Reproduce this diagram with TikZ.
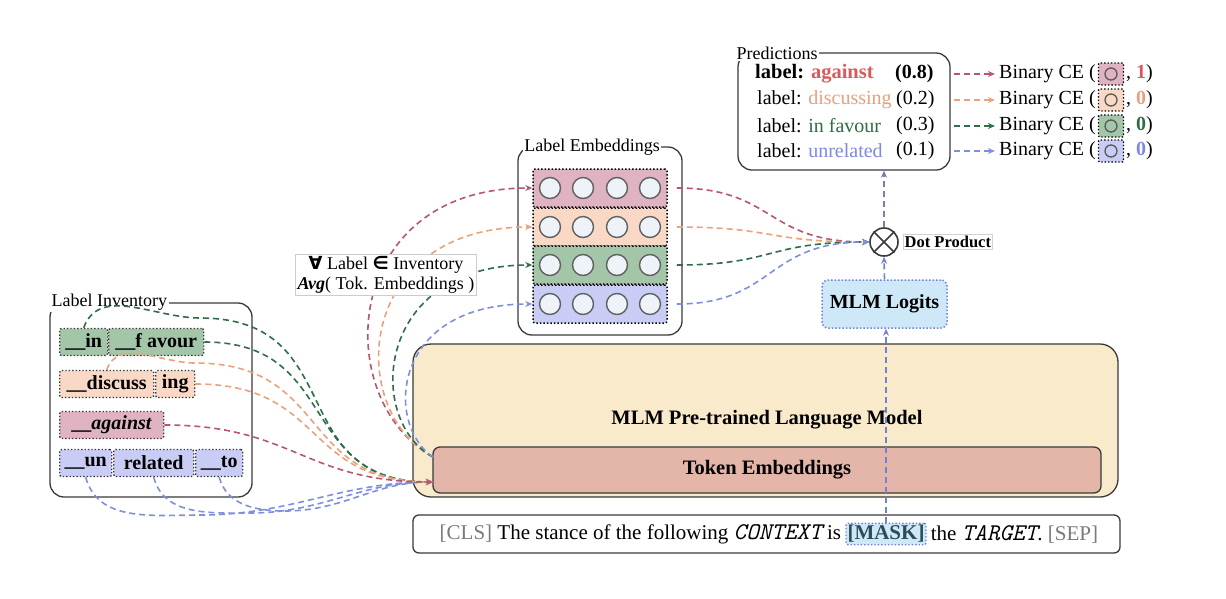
\documentclass[tikz,border=0pt]{standalone}
\usepackage{fontspec}
\setmainfont{Liberation Serif}
\newfontfamily\symfont{DejaVu Sans}
\usetikzlibrary{arrows.meta}
\definecolor{cred}{HTML}{B8566F}
\definecolor{corange}{HTML}{E9A27C}
\definecolor{cgreen}{HTML}{2F6E48}
\definecolor{cblue}{HTML}{7F8FE0}
\definecolor{cpurple}{HTML}{8A76A8}
\definecolor{fred}{HTML}{DFB3C2}
\definecolor{forange}{HTML}{F9D9C6}
\definecolor{fgreen}{HTML}{A3C6A9}
\definecolor{fblue}{HTML}{C9CDF5}
\definecolor{tred}{HTML}{D95A5E}
\definecolor{torange}{HTML}{E8A07C}
\definecolor{tgreen}{HTML}{2E6E45}
\definecolor{tblue}{HTML}{7F88E0}
\definecolor{beige}{HTML}{F9EACB}
\definecolor{rose}{HTML}{E4B6AA}
\definecolor{lblue}{HTML}{CFE8F8}
\definecolor{mblue}{HTML}{6F82D8}
\definecolor{cellfill}{HTML}{EEF3FA}
\definecolor{darkline}{HTML}{3A3A3A}
\definecolor{graytext}{HTML}{7A7A7A}
\definecolor{masktext}{HTML}{2B4C5C}
\newcommand\myfs[1]{\fontsize{#1}{#1}\selectfont}
\begin{document}
\begin{tikzpicture}[x=1pt,y=-1pt,
  frame/.style={draw=darkline, line width=1.3pt, rounded corners=14pt},
  titletext/.style={fill=white, inner sep=1.5pt, font=\myfs{18}},
  tok/.style={draw=darkline, dotted, line width=1.4pt, rounded corners=2pt, minimum height=27pt, inner xsep=2pt, inner ysep=0pt, font=\myfs{20}\bfseries, anchor=west},
  embrow/.style={draw=black, dotted, line width=1.5pt, rounded corners=2pt, minimum width=134pt, minimum height=38pt},
  cell/.style={circle, draw=gray!75!black, line width=1.4pt, fill=cellfill, minimum size=21pt, inner sep=0pt},
  cebox/.style={draw=black, dotted, line width=1.4pt, rounded corners=1pt, minimum width=25pt, minimum height=22pt, inner sep=0pt},
  smallcell/.style={circle, draw=gray!70!black, line width=1.3pt, minimum size=12pt, inner sep=0pt},
  conn/.style={dash pattern=on 6pt off 4pt, line width=1.6pt, -{Stealth[length=7pt,width=6pt]}},
  txt/.style={font=\myfs{20}, inner sep=0pt},
]
\useasboundingbox (0,0) rectangle (1226,598);
\fill[white] (0,0) rectangle (1226,598);

% ---------- Predictions ----------
\node[frame, minimum width=212pt, minimum height=117pt] (pred) at (844,111.5) {};
\node[titletext, anchor=west] (predt) at (735,53) {Predictions};
\node[txt, anchor=west, font=\myfs{20.5}] (p1) at (755,74) {\textbf{label: \textcolor{tred}{against}}};
\node[txt, anchor=west] (v1) at (895,74) {\textbf{(0.8)}};
\node[txt, anchor=west] (p2) at (757,100) {label: \textcolor{torange}{discussing}};
\node[txt, anchor=west] (v2) at (896,100) {(0.2)};
\node[txt, anchor=west] (p3) at (757,126) {label: \textcolor{tgreen}{in favour}};
\node[txt, anchor=west] (v3) at (896,126) {(0.3)};
\node[txt, anchor=west] (p4) at (757,151) {label: \textcolor{tblue}{unrelated}};
\node[txt, anchor=west] (v4) at (896,151) {(0.1)};

% ---------- Binary CE ----------
\foreach \i/\y/\f/\c/\v in {1/74/fred/tred/1, 2/100/forange/torange/0, 3/126/fgreen/tgreen/0, 4/151/fblue/tblue/0}{
  \node[cebox, fill=\f] (q\i) at (1111,\y) {};
  \node[smallcell] (qc\i) at (q\i) {};
  \node[txt, anchor=east] (b\i) at (1096,\y) {Binary CE (};
  \node[txt, anchor=west] (n\i) at (1126,\y) {, \textbf{\textcolor{\c}{\v}})};
}
\draw[conn, cred, shorten >=4pt] (pred.east |- v1) ++(3,0) -- (b1.west);
\draw[conn, corange, shorten >=4pt] (pred.east |- v2) ++(3,0) -- (b2.west);
\draw[conn, cgreen, shorten >=4pt] (pred.east |- v3) ++(3,0) -- (b3.west);
\draw[conn, cblue, shorten >=4pt] (pred.east |- v4) ++(3,0) -- (b4.west);

% ---------- Label Embeddings ----------
\node[frame, minimum width=164pt, minimum height=188pt] (le) at (600,241) {};
\node[titletext] (let) at (592,147) {Label Embeddings};
\node[embrow, fill=fred] (r1) at (600,188) {};
\node[embrow, fill=forange] (r2) at (600,227) {};
\node[embrow, fill=fgreen] (r3) at (600,265) {};
\node[embrow, fill=fblue] (r4) at (600,304) {};
\foreach \r/\y in {1/188,2/227,3/265,4/304}{
  \foreach \k/\x in {1/550,2/583,3/617,4/650}{
    \node[cell] (c\r\k) at (\x,\y) {};
  }
}

% ---------- Dot product & logits ----------
\node[circle, draw=darkline, line width=1.6pt, minimum size=28pt, inner sep=0pt] (dp) at (884,242) {};
\draw[darkline, line width=1.6pt] (dp.45) -- (dp.225) (dp.135) -- (dp.315);
\node[anchor=west, draw=gray!35, line width=0.4pt, inner sep=1.5pt, font=\myfs{16.5}\bfseries] (dpl) at (903,242) {Dot Product};
\node[draw=mblue, dotted, line width=1.5pt, fill=lblue, rounded corners=6pt, minimum width=125pt, minimum height=48pt, font=\myfs{20}\bfseries] (logits) at (884.5,304) {MLM Logits};

% ---------- Model ----------
\node[draw=darkline, line width=1.3pt, fill=beige, rounded corners=18pt, minimum width=705pt, minimum height=153pt] (model) at (765.5,420.5) {};
\node[font=\myfs{20.5}\bfseries] (modelt) at (767,420) {MLM Pre-trained Language Model};
\node[draw=darkline, line width=1.3pt, fill=rose, rounded corners=7pt, minimum width=668pt, minimum height=46pt, font=\myfs{20.5}\bfseries] (token) at (767,470) {Token Embeddings};
\coordinate (tein) at (433,482);
\coordinate (teout) at (433,457);

% ---------- Sentence ----------
\node[draw=darkline, line width=1.3pt, rounded corners=6pt, minimum width=707pt, minimum height=38pt] (sent) at (766.5,534) {};
\node[draw=mblue, dotted, line width=1.4pt, fill=lblue, rounded corners=2pt, inner xsep=1.5pt, inner ysep=2pt, font=\myfs{21}\bfseries, text=masktext] (mask) at (886,534) {[MASK]};
\node[txt, font=\myfs{21}, anchor=east, inner xsep=4pt] (sl) at (mask.west) {\textcolor{graytext}{[CLS]} The stance of the following {\myfs{24}\ttfamily\itshape CONTEXT} is};
\node[txt, font=\myfs{21}, anchor=west, inner xsep=4pt] (sr) at (mask.east) {the {\myfs{24}\ttfamily\itshape TARGET}. \textcolor{graytext}{[SEP]}};

% ---------- Label Inventory ----------
\node[frame, minimum width=202pt, minimum height=194pt] (inv) at (151,400) {};
\node[titletext, anchor=west] (invt) at (50,302) {Label Inventory};
\node[tok, fill=fgreen, minimum width=48pt] (in) at (59,342) {\_\_in};
\node[tok, fill=fgreen, minimum width=95pt] (favour) at (108,342) {\_\_f avour};
\node[tok, fill=forange, minimum width=94pt] (discuss) at (59,384) {\_\_discuss};
\node[tok, fill=forange, minimum width=39pt] (ing) at (155,384) {ing};
\node[tok, fill=fred, minimum width=104pt] (against) at (59,425) {\_\_\textit{against}};
\node[tok, fill=fblue, minimum width=52pt] (un) at (59,463) {\_\_un};
\node[tok, fill=fblue, minimum width=80pt] (related) at (113,463) {related};
\node[tok, fill=fblue, minimum width=47pt] (to) at (195,463) {\_\_to};

% ---------- connectors: inventory -> token embeddings ----------
\draw[conn, cblue] (un.south) to[out=-75,in=180] (200,515) to[out=0,in=180] (tein);
\draw[conn, cblue] (related.south) to[out=-75,in=180] (250,513) to[out=0,in=180] (tein);
\draw[conn, cblue] (to.south) to[out=-75,in=180] (285,511) to[out=0,in=180] (tein);
\draw[conn, cgreen] (in.north) to[out=70,in=180] (200,318) to[out=0,in=180,looseness=1.35] (tein);
\draw[conn, cgreen] (favour.east) to[out=0,in=180,looseness=1.3] (tein);
\draw[conn, corange] (discuss.north) to[out=70,in=180] (195,363) to[out=0,in=180,looseness=1.3] (tein);
\draw[conn, corange] (ing.east) to[out=0,in=180,looseness=1.3] (tein);
\draw[conn, cred] (against.east) to[out=0,in=180,looseness=1.2] (tein);

% ---------- connectors: token embeddings -> label embeddings ----------
\draw[conn, cred] (teout) .. controls (330,400) and (340,188) .. (r1.west);
\draw[conn, corange] (teout) .. controls (345,410) and (355,227) .. (r2.west);
\draw[conn, cgreen] (teout) .. controls (365,420) and (375,265) .. (r3.west);
\draw[conn, cblue] (teout) .. controls (385,425) and (390,304) .. (r4.west);

\node[draw=gray!40, fill=white, line width=0.5pt, inner sep=2pt, align=center, font=\myfs{18}] (forall) at (386,275) {{\symfont\bfseries ∀} Label {\symfont\bfseries ∈} Inventory\\[2pt]\textbf{\textit{Avg}}( Tok. Embeddings )};

% ---------- label embeddings -> dot product ----------
\draw[conn, cred, shorten <=9pt] (r1.east) .. controls (775,188) and (765,242) .. (dp.west);
\draw[conn, corange, shorten <=9pt] (r2.east) .. controls (775,227) and (765,242) .. (dp.west);
\draw[conn, cgreen, shorten <=9pt] (r3.east) .. controls (775,265) and (765,242) .. (dp.west);
\draw[conn, cblue, shorten <=9pt] (r4.east) .. controls (775,304) and (765,242) .. (dp.west);

% ---------- vertical flow ----------
\draw[conn, mblue] (mask.north) -- (mask.north |- logits.south);
\draw[conn, mblue] (logits.north) -- (dp.south);
\draw[conn, cpurple] (dp.north) -- (dp.north |- pred.south);
\end{tikzpicture}
\end{document}
